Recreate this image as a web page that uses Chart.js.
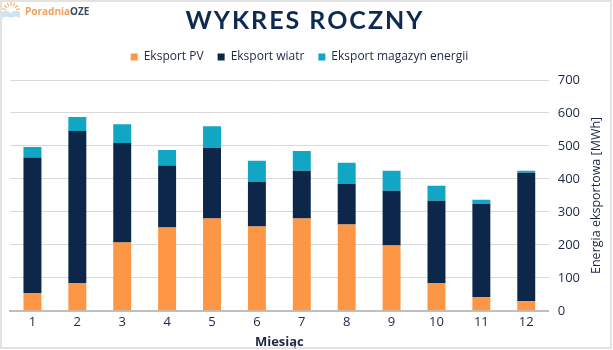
<!DOCTYPE html>
<html>
<head>
<meta charset="utf-8">
<script src="https://cdn.jsdelivr.net/npm/chart.js@4"></script>
<style>
    html, body { margin: 0; padding: 0; background: #fff; }
    #wrap { width: 613px; height: 350px; }
</style>
</head>
<body>
<div id="wrap"><canvas id="year_chart" width="613" height="350"></canvas></div>
<script>
const ctx = document.getElementById("year_chart").getContext("2d");

const months = ["1", "2", "3", "4", "5", "6", "7", "8", "9", "10", "11", "12"];

// exported energy per month [MWh]
const pvExport = [54, 84, 207, 253, 280, 256, 280, 262, 198, 84, 41, 29];
const windExport = [411, 461, 302, 188, 214, 135, 145, 123, 166, 250, 284, 390];
const storageExport = [32, 43, 57, 47, 66, 64, 60, 64, 61, 45, 12, 6];

const yTicks = [0, 100, 200, 300, 400, 500, 600, 700];

const navy = "#0c2749";
const textColor = "#1b2846";

// extra room under the legend
const legendGap = {
    id: "legendGap",
    beforeInit(chart) {
        const fit = chart.legend.fit;
        chart.legend.fit = function () {
            fit.bind(chart.legend)();
            this.height += 7;
        };
    }
};

// title, logo, frame and the right-hand axis title (reads bottom to top)
const decorations = {
    id: "decorations",
    afterDraw(chart) {
        const c = chart.ctx;
        const area = chart.chartArea;
        c.save();

        c.strokeStyle = "#d9d9d9";
        c.lineWidth = 1.5;
        c.strokeRect(1, 1, 610, 347);

        c.fillStyle = "#0f2a4f";
        c.font = "700 25px Lato";
        c.letterSpacing = "2px";
        c.textAlign = "center";
        c.textBaseline = "alphabetic";
        c.fillText("WYKRES ROCZNY", 305, 29);
        c.letterSpacing = "0px";

        // logo: sun rays over a light blue book
        c.strokeStyle = "#f6b26b";
        c.lineWidth = 1.2;
        for (let a = -165; a <= -15; a += 25) {
            const r = a * Math.PI / 180;
            c.beginPath();
            c.moveTo(11 + Math.cos(r) * 5, 11 + Math.sin(r) * 5);
            c.lineTo(11 + Math.cos(r) * 9, 11 + Math.sin(r) * 9);
            c.stroke();
        }
        c.fillStyle = "#cfe2ee";
        c.beginPath();
        c.moveTo(2, 12);
        c.quadraticCurveTo(7, 9, 11, 13);
        c.quadraticCurveTo(15, 9, 20, 12);
        c.lineTo(20, 18);
        c.quadraticCurveTo(15, 15, 11, 18);
        c.quadraticCurveTo(7, 15, 2, 18);
        c.closePath();
        c.fill();

        c.textAlign = "left";
        c.textBaseline = "middle";
        c.font = "700 10px 'Open Sans'";
        c.fillStyle = "#f5a05a";
        c.fillText("Poradnia", 25, 12.5);
        const w = c.measureText("Poradnia").width;
        c.fillStyle = "#3d4a5e";
        c.fillText("OZE", 25 + w, 12.5);

        c.translate(596, (area.top + area.bottom) / 2);
        c.rotate(-Math.PI / 2);
        c.textAlign = "center";
        c.font = "12.5px 'Open Sans'";
        c.fillStyle = textColor;
        c.fillText("Energia eksportowa [MWh]", 0, 0);

        c.restore();
    }
};

const yearChart = new Chart(ctx, {
    type: "bar",
    data: {
        labels: months,
        datasets: [{
            label: "Eksport PV",
            data: pvExport,
            backgroundColor: "#fd9645"
        }, {
            label: "Eksport wiatr",
            data: windExport,
            backgroundColor: navy
        }, {
            label: "Eksport magazyn energii",
            data: storageExport,
            backgroundColor: "#10a6c4"
        }]
    },
    options: {
        responsive: false,
        animation: false,
        layout: {
            padding: { top: 37, left: 10, right: 24, bottom: 0 }
        },
        datasets: {
            bar: { barPercentage: 0.4, categoryPercentage: 1.0 }
        },
        plugins: {
            legend: {
                position: "top",
                labels: {
                    boxWidth: 7,
                    boxHeight: 7,
                    padding: 14,
                    color: textColor,
                    font: { family: "'Open Sans'", size: 12 }
                }
            },
            tooltip: { enabled: false }
        },
        scales: {
            x: {
                stacked: true,
                grid: { display: false, drawTicks: false },
                border: { display: true, color: "#bfbfbf", width: 2 },
                ticks: {
                    color: textColor,
                    padding: 4,
                    font: { family: "'Open Sans'", size: 13 }
                },
                title: {
                    display: true,
                    text: "Miesiąc",
                    color: textColor,
                    padding: { top: 0, bottom: 0 },
                    font: { family: "'Open Sans'", size: 13, weight: "bold" }
                }
            },
            y: {
                stacked: true,
                position: "right",
                min: 0,
                max: 700,
                afterBuildTicks(scale) {
                    scale.ticks = yTicks.map(v => ({ value: v }));
                },
                grid: { color: "#d9d9d9", lineWidth: 1, drawTicks: false },
                border: { display: false },
                ticks: {
                    color: textColor,
                    padding: 9,
                    font: { family: "'Open Sans'", size: 13 }
                }
            }
        }
    },
    plugins: [legendGap, decorations]
});
</script>
</body>
</html>
